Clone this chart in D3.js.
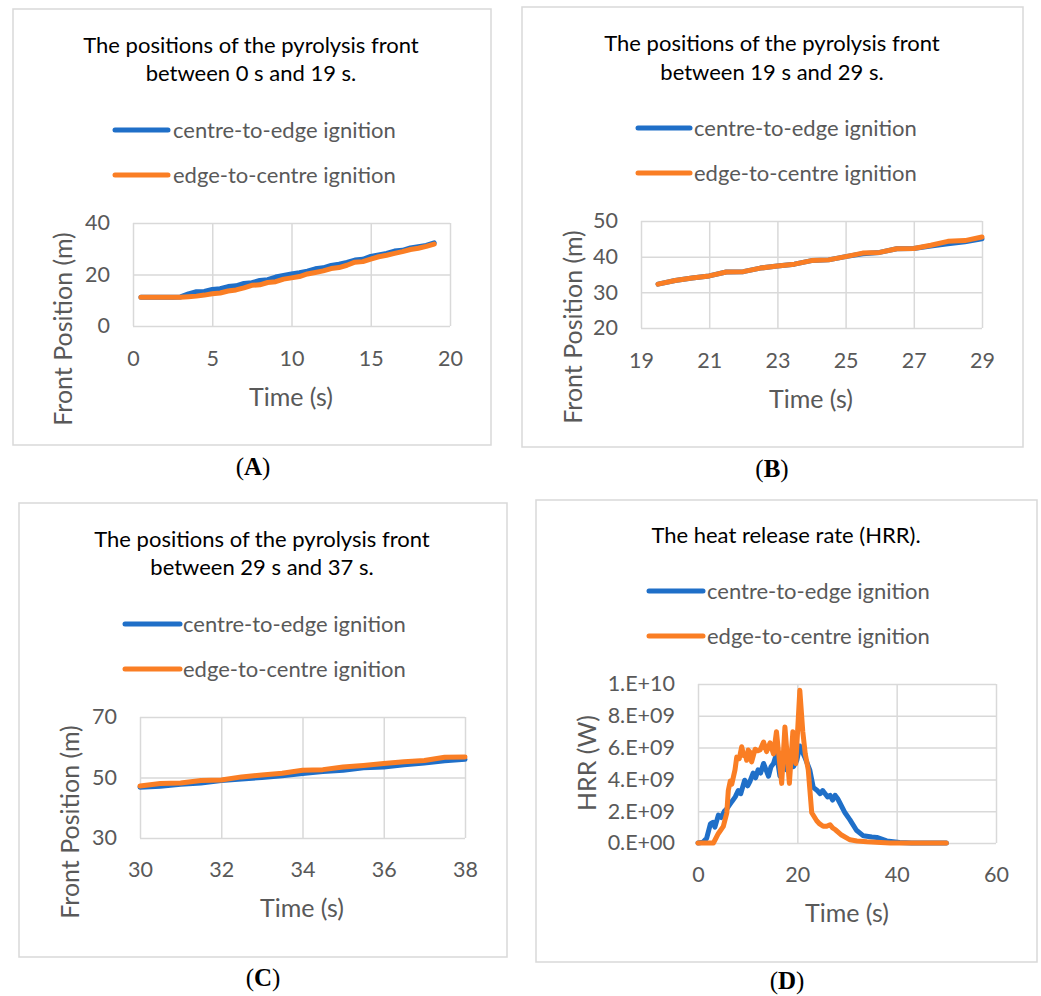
<!DOCTYPE html>
<html>
<head>
<meta charset="utf-8">
<script src="https://cdn.jsdelivr.net/npm/d3@7"></script>
<style>
  body { margin: 0; background: #fff; }
  svg { display: block; }
  text { font-family: Lato, "Open Sans", sans-serif; }
</style>
</head>
<body>
<svg id="fig" width="1041" height="996"></svg>
<script>
// ---- data ----
const seriesNames = ["centre-to-edge ignition", "edge-to-centre ignition"]
const seriesColors = ["#1f6fc8", "#fa7e24"]

// (A) 0 s - 19 s, time step 0.5 s
const timeA = [0.5, 1, 1.5, 2, 2.5, 3, 3.5, 4, 4.5, 5, 5.5, 6, 6.5, 7, 7.5, 8, 8.5, 9, 9.5, 10, 10.5, 11, 11.5, 12, 12.5, 13, 13.5, 14, 14.5, 15, 15.5, 16, 16.5, 17, 17.5, 18, 18.5, 19]
const centreA = [11.2, 11.2, 11.2, 11.2, 11.2, 11.3, 12.5, 13.3, 13.4, 14.2, 14.5, 15.3, 15.6, 16.5, 16.8, 17.7, 18.0, 19.0, 19.6, 20.2, 20.7, 21.3, 22.2, 22.6, 23.5, 24.0, 24.7, 25.6, 25.9, 27.0, 27.6, 28.2, 29.1, 29.4, 30.3, 30.8, 31.3, 32.3]
const edgeA = [11.2, 11.2, 11.2, 11.2, 11.2, 11.2, 11.4, 11.6, 12.0, 12.5, 12.8, 13.6, 14.0, 14.8, 15.8, 16.0, 16.9, 17.2, 18.2, 18.7, 19.2, 20.2, 20.8, 21.4, 22.3, 22.7, 23.6, 24.8, 25.0, 26.0, 26.9, 27.5, 28.2, 28.9, 29.7, 30.2, 30.9, 31.8]

// (B) 19 s - 29 s
const timeB = [19.5, 20, 20.5, 21, 21.5, 22, 22.5, 23, 23.5, 24, 24.5, 25, 25.5, 26, 26.5, 27, 27.5, 28, 28.5, 29]
const centreB = [32.3, 33.3, 34.0, 34.6, 35.7, 35.8, 36.8, 37.4, 37.9, 38.9, 39.1, 40.0, 40.8, 41.2, 42.2, 42.3, 43.0, 43.6, 44.2, 45.0]
const edgeB = [32.3, 33.3, 34.0, 34.6, 35.7, 35.8, 36.8, 37.4, 37.9, 38.9, 39.1, 40.0, 41.0, 41.2, 42.2, 42.3, 43.2, 44.3, 44.5, 45.5]

// (C) 29 s - 37 s
const timeC = [30, 30.5, 31, 31.5, 32, 32.5, 33, 33.5, 34, 34.5, 35, 35.5, 36, 36.5, 37, 37.5, 38]
const centreC = [46.8, 47.1, 47.8, 48.2, 49.0, 49.5, 50.0, 50.6, 51.3, 52.0, 52.4, 53.2, 53.5, 54.2, 54.8, 55.5, 56.0]
const edgeC = [47.2, 48.0, 48.2, 49.0, 49.2, 50.2, 50.8, 51.4, 52.4, 52.6, 53.5, 54.0, 54.6, 55.2, 55.6, 56.7, 56.8]

// (D) heat release rate, [time s, HRR in 1e9 W]
const hrrCentre = [[0, 0], [1, 0.05], [1.75, 0.3], [2.5, 1.2], [3, 1.3], [3.4, 1.0], [4.1, 1.75], [4.7, 1.6], [5.3, 2.0], [5.8, 2.15], [6.8, 2.6], [7.5, 2.9], [8.1, 3.3], [8.6, 3.1], [9.4, 3.95], [10, 3.6], [10.5, 3.9], [11.1, 4.4], [11.6, 4.1], [12.1, 4.6], [12.6, 4.4], [13.2, 5.0], [13.7, 4.6], [14.2, 4.2], [14.7, 4.8], [15.2, 5.0], [15.8, 5.6], [16.5, 4.2], [17.2, 5.2], [17.8, 4.6], [18.5, 5.0], [19.2, 4.8], [19.9, 5.2], [20.5, 6.1], [21.5, 5.4], [22.5, 4.6], [23.2, 3.5], [24, 3.3], [24.6, 3.1], [25.1, 3.3], [25.6, 3.1], [26.1, 2.9], [26.6, 3.0], [27.1, 2.7], [27.6, 3.0], [28.1, 2.8], [28.6, 2.5], [29.6, 1.9], [30.6, 1.45], [31.9, 0.8], [33.3, 0.45], [35, 0.38], [36, 0.35], [38, 0.13], [40.6, 0.03], [43, 0], [50, 0]]
const hrrEdge = [[0, 0], [3.1, 0], [3.6, 0.3], [4.1, 0.6], [5.1, 1.05], [5.8, 1.9], [6.1, 3.3], [6.5, 3.9], [6.8, 3.7], [7.45, 4.6], [7.8, 5.4], [8.3, 5.3], [8.8, 6.05], [9.2, 5.5], [9.5, 5.6], [9.8, 5.2], [10.1, 5.85], [10.5, 5.7], [10.8, 5.1], [11.5, 5.9], [12, 5.8], [12.5, 5.85], [13.2, 6.35], [13.8, 5.75], [14.5, 6.3], [15.2, 5.6], [15.8, 7.0], [16.85, 3.75], [17.5, 7.3], [18.4, 3.75], [19.1, 7.0], [19.7, 5.0], [20.5, 9.6], [21.1, 7.0], [21.6, 5.6], [22.2, 4.6], [22.9, 1.9], [23.9, 1.4], [24.5, 1.2], [25.2, 1.05], [25.9, 1.05], [26.6, 1.15], [27.1, 0.95], [27.6, 0.85], [28.9, 0.5], [30.6, 0.2], [32, 0.13], [34, 0.08], [38.7, 0], [50, 0]]

// tick values
const ticksA = { x: [0, 5, 10, 15, 20], y: [0, 20, 40] }
const ticksB = { x: [19, 21, 23, 25, 27, 29], y: [20, 30, 40, 50] }
const ticksC = { x: [30, 32, 34, 36, 38], y: [30, 50, 70] }
const ticksD = { x: [0, 20, 40, 60], y: [0, 2e9, 4e9, 6e9, 8e9, 1e10] }

const titleA = ["The positions of the pyrolysis front", "between 0 s and 19 s."]
const titleB = ["The positions of the pyrolysis front", "between 19 s and 29 s."]
const titleC = ["The positions of the pyrolysis front", "between 29 s and 37 s."]
const titleD = ["The heat release rate (HRR)."]

// excel-like "8.E+09"
function sciFmt(v) {
  if (v === 0) return "0.E+00"
  const e = Math.floor(Math.log10(v))
  const m = Math.round(v / Math.pow(10, e))
  return `${m}.E+${String(e).padStart(2, "0")}`
}

const panels = [
  { box: [13, 9, 491, 445], plot: [133, 223, 450, 326], xd: [0, 20], yd: [0, 40], ticks: ticksA, title: titleA, titleX: 251, titleY: [45, 73],
    leg: { x0: 115, x1: 168, tx: 173, y: [130, 175] }, yTitle: "Front Position (m)", yTitleX: 63, yTitleY: 329, xLabY: 358, xTitleX: 291, xTitleY: 397,
    cap: "(A)", capX: 253, capY: 466,
    series: [timeA.map((t, i) => [t, centreA[i]]), timeA.map((t, i) => [t, edgeA[i]])] },
  { box: [522, 7, 1023, 447], plot: [641, 221, 982, 328], xd: [19, 29], yd: [20, 50], ticks: ticksB, title: titleB, titleX: 772, titleY: [43, 72],
    leg: { x0: 638, x1: 690, tx: 694, y: [128, 173] }, yTitle: "Front Position (m)", yTitleX: 573, yTitleY: 327, xLabY: 360, xTitleX: 811, xTitleY: 399,
    cap: "(B)", capX: 772, capY: 468,
    series: [timeB.map((t, i) => [t, centreB[i]]), timeB.map((t, i) => [t, edgeB[i]])] },
  { box: [19, 503, 507, 957], plot: [140, 717, 465, 838], xd: [30, 38], yd: [30, 70], ticks: ticksC, title: titleC, titleX: 262, titleY: [539, 567],
    leg: { x0: 125, x1: 180, tx: 183, y: [624, 669] }, yTitle: "Front Position (m)", yTitleX: 70, yTitleY: 822, xLabY: 869, xTitleX: 302, xTitleY: 908,
    cap: "(C)", capX: 263, capY: 977,
    series: [timeC.map((t, i) => [t, centreC[i]]), timeC.map((t, i) => [t, edgeC[i]])] },
  { box: [536, 500, 1037, 962], plot: [698, 684, 996, 843], xd: [0, 60], yd: [0, 1e10], ticks: ticksD, title: titleD, titleX: 786, titleY: [535],
    leg: { x0: 649, x1: 703, tx: 707, y: [591, 636] }, yTitle: "HRR (W)", yTitleX: 587, yTitleY: 763, xLabY: 874, xTitleX: 847, xTitleY: 913,
    cap: "(D)", capX: 787, capY: 980, yFmt: sciFmt,
    series: [hrrCentre.map((d) => [d[0], d[1] * 1e9]), hrrEdge.map((d) => [d[0], d[1] * 1e9])] }
]

const svg = d3.select("#fig")
const grey = "#595959"
const gridCol = "#d9d9d9"

panels.forEach((p) => {
  const g = svg.append("g")
  const [bx0, by0, bx1, by1] = p.box
  g.append("rect").attr("x", bx0).attr("y", by0).attr("width", bx1 - bx0).attr("height", by1 - by0)
    .attr("fill", "#fff").attr("stroke", gridCol).attr("stroke-width", 1.5)

  const [px0, py0, px1, py1] = p.plot
  const x = d3.scaleLinear().domain(p.xd).range([px0, px1])
  const y = d3.scaleLinear().domain(p.yd).range([py1, py0])

  // gridlines
  g.append("g").attr("transform", `translate(0,${py1})`)
    .call(d3.axisBottom(x).tickValues(p.ticks.x).tickSize(-(py1 - py0)).tickFormat(""))
    .call((a) => a.select(".domain").remove())
    .selectAll("line").attr("stroke", gridCol).attr("stroke-width", 1.5)
  g.append("g").attr("transform", `translate(${px0},0)`)
    .call(d3.axisLeft(y).tickValues(p.ticks.y).tickSize(-(px1 - px0)).tickFormat(""))
    .call((a) => a.select(".domain").remove())
    .selectAll("line").attr("stroke", gridCol).attr("stroke-width", 1.5)

  // tick labels
  const xa = g.append("g").attr("transform", `translate(0,${py1})`)
    .call(d3.axisBottom(x).tickValues(p.ticks.x).tickSize(0).tickFormat(d3.format("d")))
  xa.select(".domain").remove()
  xa.selectAll("text").attr("y", p.xLabY - py1).attr("dy", "0.35em")
    .attr("fill", grey).style("font-size", "21.5px").style("font-family", "Lato")

  const ya = g.append("g").attr("transform", `translate(${px0},0)`)
    .call(d3.axisLeft(y).tickValues(p.ticks.y).tickSize(0).tickPadding(23).tickFormat(p.yFmt || d3.format("d")))
  ya.select(".domain").remove()
  ya.selectAll("text").attr("fill", grey).style("font-size", "21.5px").style("font-family", "Lato")

  // series
  const line = d3.line().x((d) => x(d[0])).y((d) => y(d[1]))
  p.series.forEach((s, i) => {
    g.append("path").datum(s).attr("d", line).attr("fill", "none")
      .attr("stroke", seriesColors[i]).attr("stroke-width", 5)
      .attr("stroke-linejoin", "round").attr("stroke-linecap", "round")
  })

  // title
  p.title.forEach((t, i) => {
    g.append("text").attr("x", p.titleX).attr("y", p.titleY[i]).attr("dy", "0.35em")
      .attr("text-anchor", "middle").attr("fill", "#000").style("font-size", "22px").text(t)
  })

  // legend
  seriesNames.forEach((n, i) => {
    g.append("line").attr("x1", p.leg.x0).attr("x2", p.leg.x1).attr("y1", p.leg.y[i]).attr("y2", p.leg.y[i])
      .attr("stroke", seriesColors[i]).attr("stroke-width", 5).attr("stroke-linecap", "round")
    g.append("text").attr("x", p.leg.tx).attr("y", p.leg.y[i]).attr("dy", "0.35em")
      .attr("fill", grey).style("font-size", "22px").text(n)
  })

  // axis titles
  g.append("text").attr("transform", `translate(${p.yTitleX},${p.yTitleY}) rotate(-90)`).attr("dy", "0.35em")
    .attr("text-anchor", "middle").attr("fill", grey).style("font-size", "25px").text(p.yTitle)
  g.append("text").attr("x", p.xTitleX).attr("y", p.xTitleY).attr("dy", "0.35em")
    .attr("text-anchor", "middle").attr("fill", grey).style("font-size", "25px").text("Time (s)")

  // panel caption, serif, letter in bold
  const cap = g.append("text").attr("x", p.capX).attr("y", p.capY).attr("dy", "0.35em")
    .attr("text-anchor", "middle").attr("fill", "#000")
    .style("font-family", "'Liberation Serif', 'Times New Roman', serif").style("font-size", "25px")
  cap.append("tspan").text("(")
  cap.append("tspan").attr("font-weight", "bold").text(p.cap.slice(1, -1))
  cap.append("tspan").text(")")
})
</script>
</body>
</html>
